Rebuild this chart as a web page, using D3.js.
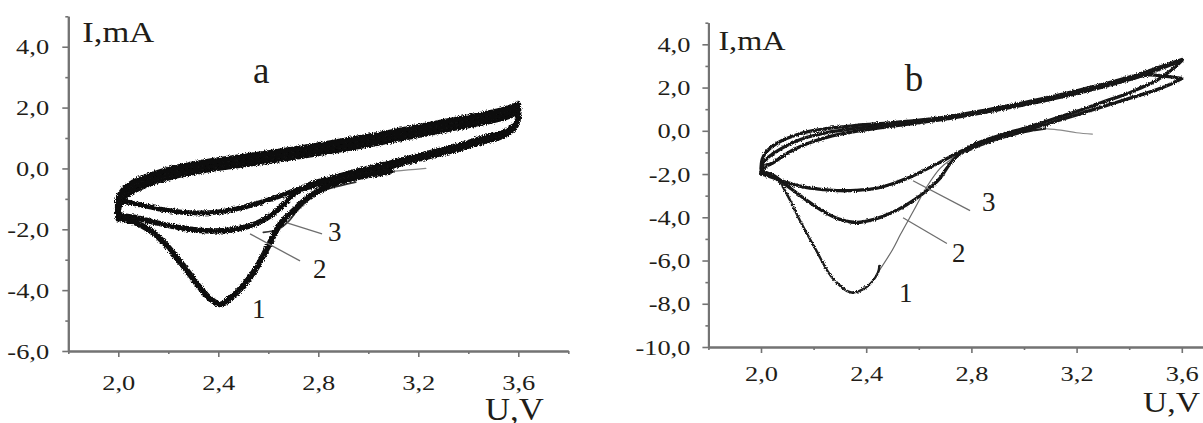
<!DOCTYPE html>
<html>
<head>
<meta charset="utf-8">
<script src="https://cdn.jsdelivr.net/npm/d3@7/dist/d3.min.js"></script>
<style>
  html, body { margin: 0; padding: 0; background: #fff; }
  svg { display: block; }
  text { font-family: "Liberation Serif", "Times New Roman", serif; fill: #221d18; }
</style>
</head>
<body>
<svg id="chart" width="1203" height="423"></svg>
<script>
// ---------- axis ticks ----------
const xMajor = [2.0, 2.4, 2.8, 3.2, 3.6];
const xMajorLabels = ["2,0", "2,4", "2,8", "3,2", "3,6"];
const xMinor = [1.8, 2.2, 2.6, 3.0, 3.4, 3.8];

const yMajorA = [-6, -4, -2, 0, 2, 4];
const yMajorLabelsA = ["-6,0", "-4,0", "-2,0", "0,0", "2,0", "4,0"];
const yMinorA = [-5, -3, -1, 1, 3, 5];

const yMajorB = [-10, -8, -6, -4, -2, 0, 2, 4];
const yMajorLabelsB = ["-10,0", "-8,0", "-6,0", "-4,0", "-2,0", "0,0", "2,0", "4,0"];
const yMinorB = [-9, -7, -5, -3, -1, 1, 3, 5];

// ---------- panel a: voltammograms, [U (V), I (mA)] ----------
const aOcvStart1 = [[3.23, 0.0], [3.16, -0.05], [3.09, -0.1]];
const aCathodic1 = [[3.09, -0.1], [2.95, -0.3], [2.85, -0.55], [2.76, -0.95], [2.7, -1.4], [2.65, -1.8],
  [2.6, -2.55], [2.55, -3.3], [2.5, -3.85], [2.45, -4.25], [2.41, -4.47], [2.37, -4.3], [2.33, -3.95],
  [2.26, -3.2], [2.19, -2.5], [2.13, -2.05], [2.06, -1.75], [2.01, -1.65]];
const aAnodic1 = [[2.0, -1.65], [2.0, -1.3], [2.02, -0.99], [2.06, -0.74], [2.14, -0.45], [2.22, -0.26],
  [2.33, -0.08], [2.45, 0.07], [2.6, 0.24], [2.75, 0.43], [2.9, 0.64], [3.05, 0.86], [3.2, 1.1],
  [3.35, 1.34], [3.45, 1.5], [3.55, 1.69], [3.6, 1.85]];
const aCathodic2 = [[3.6, 2.0], [3.595, 1.55], [3.55, 1.22], [3.45, 0.98], [3.35, 0.73], [3.2, 0.42],
  [3.09, 0.18], [2.95, -0.1], [2.85, -0.33], [2.76, -0.55], [2.7, -0.85], [2.66, -1.2], [2.6, -1.6],
  [2.53, -1.88], [2.45, -2.02], [2.35, -2.05], [2.25, -1.95], [2.15, -1.78], [2.07, -1.62],
  [2.02, -1.55], [2.0, -1.5]];
const aAnodic2 = [[2.0, -1.5], [2.0, -1.15], [2.02, -0.85], [2.06, -0.6], [2.14, -0.32], [2.22, -0.13],
  [2.33, 0.05], [2.45, 0.2], [2.6, 0.37], [2.75, 0.56], [2.9, 0.77], [3.05, 0.99], [3.2, 1.23],
  [3.35, 1.47], [3.45, 1.63], [3.55, 1.82], [3.6, 1.98]];
const aCathodic3 = [[3.6, 2.1], [3.595, 1.45], [3.55, 1.1], [3.45, 0.85], [3.35, 0.6], [3.2, 0.3],
  [3.09, 0.06], [2.95, -0.22], [2.85, -0.43], [2.76, -0.62], [2.7, -0.75], [2.62, -0.98],
  [2.5, -1.28], [2.4, -1.43], [2.3, -1.46], [2.2, -1.38], [2.1, -1.22], [2.03, -1.1], [2.0, -1.15]];
const aCathodic3Tail = [[2.95, -0.45], [2.85, -0.65], [2.79, -0.84], [2.72, -1.35], [2.68, -1.75],
  [2.64, -2.0], [2.58, -2.1]];
const aAnodic3 = [[2.0, -1.35], [2.0, -1.0], [2.02, -0.71], [2.06, -0.46], [2.14, -0.19], [2.22, 0.0],
  [2.33, 0.18], [2.45, 0.33], [2.6, 0.5], [2.75, 0.69], [2.9, 0.9], [3.05, 1.12], [3.2, 1.36],
  [3.35, 1.6], [3.45, 1.76], [3.55, 1.95], [3.6, 2.12]];

// ---------- panel b ----------
const bOcvStart1 = [[3.26, -0.15], [3.2, -0.09], [3.14, 0.03], [3.08, 0.1]];
const bCathodic1Band = [[3.08, 0.1], [3.0, -0.06], [2.92, -0.32], [2.85, -0.6], [2.78, -0.95]];
const bCathodic1Fall = [[2.78, -0.95], [2.72, -1.35], [2.68, -1.75], [2.63, -2.6], [2.58, -3.7],
  [2.53, -4.8], [2.5, -5.5], [2.445, -6.55]];
const bCathodic1Peak = [[2.45, -6.25], [2.445, -6.55], [2.40, -7.24], [2.34, -7.47], [2.27, -6.78],
  [2.21, -5.53], [2.148, -4.15], [2.11, -3.2], [2.072, -2.4], [2.04, -2.1], [2.0, -2.0]];
const bAnodic1 = [[2.0, -2.0], [2.01, -1.75], [2.025, -1.6], [2.046, -1.48], [2.08, -1.2], [2.12, -0.9],
  [2.175, -0.6], [2.25, -0.3], [2.365, -0.02], [2.5, 0.22], [2.68, 0.5], [2.85, 0.85], [3.0, 1.2],
  [3.2, 1.72], [3.4, 2.36], [3.5, 2.78], [3.6, 3.25]];
const bCathodic2 = [[3.6, 3.25], [3.56, 2.8], [3.5, 2.3], [3.45, 2.02], [3.4, 1.75], [3.3, 1.33],
  [3.2, 0.9], [3.1, 0.5], [3.0, 0.12], [2.9, -0.24], [2.82, -0.58], [2.77, -0.92], [2.72, -1.5],
  [2.68, -2.2], [2.616, -2.9], [2.55, -3.45], [2.49, -3.83], [2.43, -4.1], [2.365, -4.24],
  [2.3, -4.1], [2.24, -3.75], [2.175, -3.23], [2.1, -2.55], [2.046, -2.05], [2.0, -1.9]];
const bAnodic2 = [[2.0, -1.9], [2.01, -1.5], [2.025, -1.25], [2.046, -1.06], [2.08, -0.8], [2.12, -0.55],
  [2.175, -0.3], [2.25, -0.08], [2.365, 0.12], [2.5, 0.3], [2.68, 0.55], [2.85, 0.92], [3.0, 1.27],
  [3.2, 1.8], [3.4, 2.42], [3.47, 2.58], [3.54, 2.52], [3.6, 2.42]];
const bCathodic3 = [[3.6, 2.42], [3.55, 2.12], [3.5, 1.88], [3.4, 1.5], [3.3, 1.12], [3.2, 0.74],
  [3.1, 0.36], [3.0, 0.0], [2.9, -0.34], [2.82, -0.66], [2.76, -0.95], [2.68, -1.46], [2.6, -1.95],
  [2.555, -2.2], [2.5, -2.45], [2.43, -2.68], [2.36, -2.76], [2.3, -2.77], [2.24, -2.72],
  [2.175, -2.63], [2.1, -2.4], [2.046, -2.17], [2.0, -2.0]];
const bAnodic3 = [[2.0, -1.75], [2.005, -1.3], [2.02, -0.98], [2.046, -0.7], [2.08, -0.45], [2.12, -0.25],
  [2.175, -0.05], [2.25, 0.1], [2.365, 0.25], [2.5, 0.38], [2.68, 0.6], [2.85, 0.95], [3.0, 1.3],
  [3.2, 1.85], [3.4, 2.48], [3.5, 2.88], [3.6, 3.3]];

// ---------- cycle labels and leader lines, [U, I] ----------
const aLabels = [{ t: "1", at: [2.535, -4.92] }, { t: "2", at: [2.779, -3.6] }, { t: "3", at: [2.839, -2.38] }];
const aLeaders = [[[2.527, -2.15], [2.727, -3.04]], [[2.675, -1.79], [2.815, -2.15]]];
const bLabels = [{ t: "1", at: [2.525, -7.93] }, { t: "2", at: [2.726, -6.09] }, { t: "3", at: [2.84, -3.69] }];
const bLeaders = [[[2.54, -4.02], [2.707, -5.21]], [[2.578, -2.31], [2.795, -3.69]]];

const svg = d3.select("#chart");

// rough edge filters give the traces their noisy, hand-plotted look
const defs = svg.append("defs");
function roughFilter(id, freq, scale, seed) {
  const f = defs.append("filter").attr("id", id)
    .attr("x", "-10%").attr("y", "-10%").attr("width", "120%").attr("height", "120%");
  f.append("feTurbulence").attr("type", "fractalNoise").attr("baseFrequency", freq)
    .attr("numOctaves", 2).attr("seed", seed).attr("result", "n");
  f.append("feDisplacementMap").attr("in", "SourceGraphic").attr("in2", "n")
    .attr("scale", scale).attr("xChannelSelector", "R").attr("yChannelSelector", "G");
}
roughFilter("roughA", 0.9, 4.5, 3);
roughFilter("roughB", 0.9, 3.2, 7);

function drawPanel(p) {
  const x = d3.scaleLinear().domain([1.8, 3.8]).range(p.xRange);
  const y = d3.scaleLinear().domain(p.yDomain).range(p.yRange);
  const g = svg.append("g");
  const axisColor = "#737373";

  // y axis: major + minor ticks
  const yAxis = g.append("g").attr("transform", `translate(${p.xRange[0]},0)`)
    .call(d3.axisLeft(y).tickValues(p.yMajor).tickSize(6).tickSizeOuter(0).tickPadding(p.yPad)
      .tickFormat((d, i) => p.yLabels[i]));
  g.append("g").attr("transform", `translate(${p.xRange[0]},0)`)
    .call(d3.axisLeft(y).tickValues(p.yMinor).tickSize(3).tickSizeOuter(0).tickFormat(""));
  // x axis
  const xAxis = g.append("g").attr("transform", `translate(0,${p.yRange[0]})`)
    .call(d3.axisBottom(x).tickValues(xMajor).tickSize(6).tickSizeOuter(0).tickPadding(p.xPad)
      .tickFormat((d, i) => xMajorLabels[i]));
  g.append("g").attr("transform", `translate(0,${p.yRange[0]})`)
    .call(d3.axisBottom(x).tickValues(xMinor).tickSize(3).tickSizeOuter(0).tickFormat(""));

  g.selectAll(".domain").attr("stroke", axisColor).attr("stroke-width", 2);
  g.selectAll(".tick line").attr("stroke", axisColor).attr("stroke-width", 1.6);
  g.selectAll(".tick text")
    .style("font-family", "'Liberation Serif', 'Times New Roman', serif")
    .style("font-size", "22px").style("fill", "#221d18");
  yAxis.selectAll(".tick text").attr("transform", "scale(1.2,1)");
  xAxis.selectAll(".tick text").attr("transform", "scale(1.2,1)");

  const line = d3.line().x(d => x(d[0])).y(d => y(d[1])).curve(d3.curveCatmullRom.alpha(0.5));

  p.traces.forEach(tr => {
    g.append("path").datum(tr.data)
      .attr("d", line)
      .attr("fill", "none")
      .attr("stroke", tr.color)
      .attr("stroke-width", tr.width)
      .attr("stroke-linejoin", "round")
      .attr("stroke-linecap", "round")
      .attr("filter", tr.rough ? `url(#${tr.rough})` : null);
  });

  // leader lines and cycle numbers
  p.leaders.forEach(l => {
    g.append("line")
      .attr("x1", x(l[0][0])).attr("y1", y(l[0][1]))
      .attr("x2", x(l[1][0])).attr("y2", y(l[1][1]))
      .attr("stroke", "#6e6e6e").attr("stroke-width", 1.3);
  });
  p.labels.forEach(l => {
    g.append("text").attr("x", x(l.at[0])).attr("y", y(l.at[1]))
      .attr("font-size", 27).text(l.t);
  });

  // axis titles and panel letter
  const x0 = p.xRange[0], yTop = p.yRange[1];
  g.append("text").attr("transform", `translate(${x0 + p.iTitle[0]},${yTop + p.iTitle[1]}) scale(1.15,1)`)
    .attr("font-size", p.iSize).text("I,mA");
  g.append("text").attr("transform", `translate(${p.uTitle[0]},${p.uTitle[1]}) scale(1.12,1)`)
    .attr("font-size", p.uSize).text("U,V");
  g.append("text").attr("x", x(p.letter.at[0])).attr("y", y(p.letter.at[1]))
    .attr("font-size", 37).text(p.letter.t);
}

drawPanel({
  xRange: [68.3, 568.3], yDomain: [-6, 5], yRange: [351, 16.3],
  yMajor: yMajorA, yLabels: yMajorLabelsA, yMinor: yMinorA, yPad: 10, xPad: 17,
  iTitle: [14, 25.5], iSize: 30, uTitle: [485, 420], uSize: 31,
  letter: { t: "a", at: [2.539, 2.82] },
  labels: aLabels, leaders: aLeaders,
  traces: [
    { data: aOcvStart1, width: 1.3, color: "#8a8a8a" },
    { data: aCathodic3Tail, width: 1.6, color: "#333" },
    { data: aCathodic3, width: 5, color: "#111", rough: "roughA" },
    { data: aCathodic2, width: 5.5, color: "#111", rough: "roughA" },
    { data: aCathodic1, width: 6, color: "#111", rough: "roughA" },
    { data: aAnodic1, width: 6, color: "#111", rough: "roughA" },
    { data: aAnodic2, width: 6, color: "#111", rough: "roughA" },
    { data: aAnodic3, width: 6, color: "#111", rough: "roughA" }
  ]
});

drawPanel({
  xRange: [708.4, 1234.4], yDomain: [-10, 5], yRange: [347, 22.7],
  yMajor: yMajorB, yLabels: yMajorLabelsB, yMinor: yMinorB, yPad: 9, xPad: 12,
  iTitle: [10, 27.5], iSize: 28, uTitle: [1143, 412], uSize: 30,
  letter: { t: "b", at: [2.547, 1.85] },
  labels: bLabels, leaders: bLeaders,
  traces: [
    { data: bOcvStart1, width: 1.2, color: "#8a8a8a" },
    { data: bCathodic1Fall, width: 1.2, color: "#6a6a6a" },
    { data: bCathodic1Band, width: 2.4, color: "#1a1a1a", rough: "roughB" },
    { data: bCathodic1Peak, width: 2.4, color: "#1a1a1a", rough: "roughB" },
    { data: bCathodic2, width: 3.3, color: "#161616", rough: "roughB" },
    { data: bCathodic3, width: 3.3, color: "#161616", rough: "roughB" },
    { data: bAnodic1, width: 3.3, color: "#161616", rough: "roughB" },
    { data: bAnodic2, width: 3.3, color: "#161616", rough: "roughB" },
    { data: bAnodic3, width: 3.3, color: "#161616", rough: "roughB" }
  ]
});
</script>
</body>
</html>
